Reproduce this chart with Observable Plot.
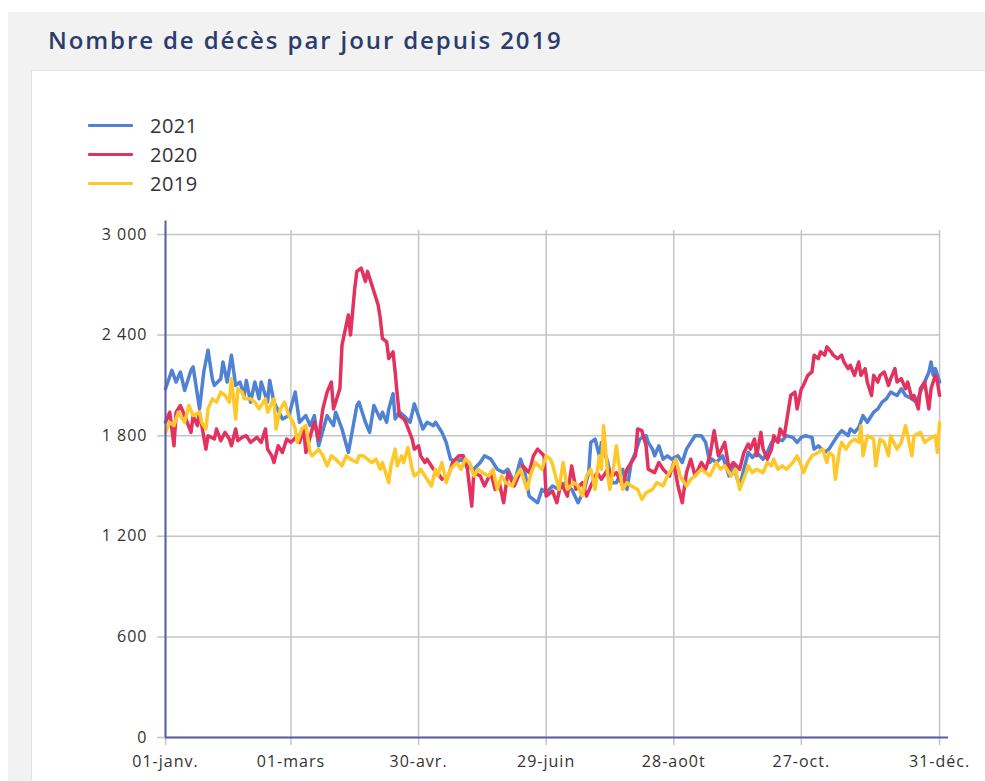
<!DOCTYPE html>
<html><head><meta charset="utf-8">
<script src="https://cdn.jsdelivr.net/npm/d3@7"></script>
<script src="https://cdn.jsdelivr.net/npm/@observablehq/plot@0.6"></script>
<style>
body{margin:0;width:985px;height:781px;overflow:hidden;background:#fff;font-family:"Open Sans",sans-serif;position:relative}
#panel{position:absolute;left:8px;top:12px;right:0;bottom:0;background:#f2f2f2}
#title{position:absolute;left:48px;top:24px;font-size:24px;font-weight:600;color:#2b3d6b;letter-spacing:1.9px;white-space:nowrap;line-height:31px}
#card{position:absolute;left:31px;top:70px;right:-10px;bottom:-10px;background:#fff;border:1.5px solid #e2e2e2}
#legend{position:absolute;left:88px;top:111px}
.item{display:flex;align-items:center;height:29px}
.sw{width:45px;height:3px;margin-right:17px;border-radius:1px}
.lab{font-size:20px;color:#333;letter-spacing:.5px;line-height:29px}
#chart{position:absolute;left:0;top:0}
#chart [aria-label="x-axis tick label"]{letter-spacing:1px}
#chart [aria-label="y-axis tick label"]{letter-spacing:1px}
</style></head>
<body>
<div id="panel"></div>
<div id="title">Nombre de décès par jour depuis 2019</div>
<div id="card"></div>
<div id="legend"></div>
<div id="chart"></div>
<script>
// ---- data (day offset from 1 January, deaths per day) ----
const years = ["2021", "2020", "2019"];
const colors = ["#4f82d3", "#e3325f", "#fec82b"];

const days2021 = [0,3,5,7,9,12,13,16,18,20,22,23,26,27,29,31,33,35,37,38,40,42,44,45,48,49,51,55,58,61,63,66,68,70,72,76,79,80,83,86,90,91,94,96,98,101,102,104,105,107,108,110,112,115,117,120,121,123,126,127,130,132,134,137,139,142,145,148,150,153,156,159,161,164,167,169,171,175,177,179,182,185,188,191,194,197,199,200,202,204,205,208,210,212,215,217,219,221,223,226,227,229,230,232,234,236,238,241,243,245,247,249,252,254,256,257,259,262,265,267,270,272,274,276,278,281,283,285,288,290,292,295,297,299,301,304,305,307,310,312,314,316,318,321,322,324,326,328,330,333,335,337,339,341,344,346,348,351,353,355,357,359,360,361,362,364];
const deaths2021 = [2080,2190,2120,2180,2070,2190,2210,1960,2180,2310,2140,2100,2140,2240,2120,2280,2100,2120,2040,2130,2000,2120,2020,2120,2000,2130,2000,1900,1920,2060,1880,1920,1860,1920,1740,1920,1860,1940,1840,1700,1980,2000,1880,1820,1980,1900,1940,1880,1960,2050,1900,1940,1920,1880,1990,1880,1840,1880,1860,1880,1820,1760,1660,1640,1660,1620,1600,1640,1680,1660,1600,1580,1600,1520,1660,1580,1440,1400,1480,1460,1500,1480,1520,1480,1400,1480,1580,1760,1780,1680,1760,1640,1520,1520,1600,1480,1640,1700,1780,1800,1760,1720,1680,1740,1660,1680,1660,1680,1640,1720,1760,1800,1800,1760,1640,1660,1640,1680,1560,1620,1500,1600,1700,1670,1700,1660,1700,1760,1780,1770,1800,1790,1760,1790,1800,1790,1720,1740,1700,1720,1760,1800,1830,1800,1840,1820,1850,1920,1880,1940,1960,2000,2020,2060,2040,2080,2040,2020,2000,2060,2120,2180,2240,2160,2200,2120];

const days2020 = [0,2,4,5,7,9,12,13,15,16,19,20,23,24,26,28,30,31,33,34,36,38,40,43,45,47,48,50,51,53,55,57,59,62,63,65,66,69,70,72,74,76,78,79,82,83,86,87,89,90,92,94,95,97,98,100,101,102,104,105,107,108,109,110,112,113,116,117,119,120,122,123,126,128,130,133,135,138,140,142,144,145,148,150,153,155,157,159,161,164,166,168,171,173,175,178,179,182,184,186,189,191,193,196,198,200,203,205,208,210,212,215,217,219,221,222,224,226,227,230,232,234,237,239,241,243,245,247,249,252,254,256,258,260,263,265,267,270,272,274,275,277,278,280,281,283,285,286,288,289,291,292,294,296,297,299,300,302,304,305,307,308,310,311,313,314,316,318,319,321,322,324,326,327,329,330,332,333,335,336,338,340,341,343,344,346,348,349,351,352,354,355,357,359,360,362,363,364];
const deaths2020 = [1880,1940,1740,1940,1980,1920,1820,1920,1860,1940,1720,1800,1780,1840,1770,1820,1780,1740,1840,1770,1790,1800,1760,1790,1760,1840,1720,1680,1640,1740,1700,1780,1760,1800,1760,1840,1700,1840,1880,1780,1960,2060,2120,1960,2080,2340,2520,2400,2680,2780,2800,2720,2780,2700,2660,2580,2500,2380,2360,2260,2300,2180,2040,1920,1900,1880,1780,1720,1740,1680,1640,1660,1600,1580,1540,1560,1640,1680,1680,1600,1380,1580,1560,1500,1580,1480,1520,1400,1580,1500,1560,1620,1580,1680,1720,1680,1440,1470,1400,1520,1440,1620,1480,1520,1440,1500,1580,1540,1600,1560,1580,1500,1600,1640,1680,1840,1830,1740,1600,1580,1640,1600,1560,1640,1500,1400,1580,1660,1560,1640,1600,1680,1830,1680,1760,1600,1640,1600,1700,1750,1720,1780,1680,1820,1720,1660,1720,1800,1760,1840,1800,1880,2040,2060,1960,2080,2100,2160,2180,2280,2260,2300,2280,2330,2300,2280,2260,2280,2240,2200,2220,2160,2240,2160,2200,2120,2040,2160,2120,2160,2180,2100,2140,2200,2120,2140,2080,2120,2020,2040,1960,2080,2120,1960,2080,2160,2120,2040];

const days2019 = [0,2,4,6,9,11,13,16,17,19,20,22,24,26,28,30,31,33,34,36,37,40,42,44,47,48,51,52,54,56,58,60,61,62,64,66,68,69,72,74,76,78,80,83,85,87,90,91,93,95,97,99,101,102,105,106,108,109,111,112,114,116,117,119,120,123,125,127,128,130,132,134,137,139,141,143,145,147,149,152,154,156,158,160,163,165,167,170,172,174,177,179,181,182,183,185,187,189,192,194,196,198,200,202,204,205,206,208,209,211,212,214,215,217,219,222,224,226,229,231,234,236,238,240,242,245,247,249,252,254,256,259,261,263,266,268,270,273,274,276,278,281,283,285,286,288,290,292,295,297,299,300,302,304,307,309,311,312,314,315,317,318,320,322,324,326,327,328,330,333,334,336,338,340,341,344,346,348,349,351,352,355,357,359,362,363,364];
const deaths2019 = [1820,1880,1860,1940,1880,1980,1920,1940,1880,1840,1960,2020,2000,2060,2040,2000,2140,1900,2080,2060,2020,2020,2000,1960,2020,1940,2020,1840,1960,2000,1920,1880,1840,1760,1840,1860,1700,1680,1720,1680,1620,1680,1660,1620,1680,1660,1640,1680,1680,1660,1640,1660,1600,1640,1520,1620,1720,1620,1680,1640,1730,1600,1560,1580,1600,1540,1500,1600,1560,1640,1520,1600,1640,1600,1660,1640,1560,1600,1580,1560,1600,1480,1560,1520,1500,1560,1600,1480,1580,1640,1600,1680,1660,1630,1580,1480,1640,1480,1520,1500,1440,1560,1600,1480,1680,1600,1860,1560,1480,1640,1740,1560,1480,1520,1500,1480,1420,1460,1480,1520,1500,1560,1600,1660,1560,1500,1540,1560,1600,1580,1560,1640,1600,1620,1560,1600,1480,1580,1620,1580,1600,1580,1640,1620,1660,1600,1620,1600,1640,1680,1620,1580,1640,1680,1700,1720,1640,1700,1680,1540,1720,1760,1720,1760,1780,1760,1860,1680,1800,1780,1620,1780,1760,1680,1800,1720,1760,1860,1800,1680,1800,1820,1760,1780,1800,1700,1880];

const yTicks = [0, 600, 1200, 1800, 2400, 3000];
const xTickDays = [0, 59, 119, 179, 239, 299, 364];
const xTickLabels = ["01-janv.", "01-mars", "30-avr.", "29-juin", "28-ao0t", "27-oct.", "31-déc."];

// ---- build table ----
const seriesDays = [days2021, days2020, days2019];
const seriesDeaths = [deaths2021, deaths2020, deaths2019];
const rows = years.flatMap((yr, k) => seriesDays[k].map((d, i) => ({year: yr, day: d, value: seriesDeaths[k][i]})));

// legend
const legend = document.getElementById("legend");
years.forEach((yr, k) => {
  const it = document.createElement("div");
  it.className = "item";
  it.innerHTML = `<div class="sw" style="background:${colors[k]}"></div><span class="lab">${yr}</span>`;
  legend.appendChild(it);
});

const axisColor = "#5b5ea6";
const gridColor = "#c4c4c4";
const fmtY = d => d3.format(",")(d).replace(/,/g, " ");

const chart = Plot.plot({
  width: 985, height: 781,
  marginLeft: 165, marginRight: 37, marginTop: 234, marginBottom: 44,
  style: {background: "transparent", fontFamily: "Open Sans", overflow: "visible"},
  x: {type: "linear", domain: [0, 368.2]},
  y: {domain: [0, 3000]},
  color: {domain: years, range: colors},
  marks: [
    Plot.ruleY(yTicks, {x1: -3.76, x2: 364, stroke: gridColor, strokeWidth: 1.5}),
    Plot.ruleX(xTickDays, {y1: -48, y2: 3024, stroke: gridColor, strokeWidth: 1.5}),
    Plot.axisY({ticks: yTicks, tickSize: 0, tickPadding: 18, tickFormat: fmtY, fontSize: 16, color: "#333", label: null}),
    Plot.axisX({ticks: xTickDays, tickSize: 0, tickPadding: 18, tickFormat: d => xTickLabels[xTickDays.indexOf(d)], fontSize: 16, color: "#333", label: null}),
    Plot.lineY(rows, {x: "day", y: "value", z: "year", stroke: "year", strokeWidth: 3.5, strokeLinejoin: "round"}),
    Plot.ruleX([0], {y1: 0, y2: 3080, stroke: axisColor, strokeWidth: 2}),
    Plot.ruleY([0], {x1: 0, x2: 368.2, stroke: axisColor, strokeWidth: 2})
  ]
});
document.getElementById("chart").appendChild(chart);
</script>
</body></html>
